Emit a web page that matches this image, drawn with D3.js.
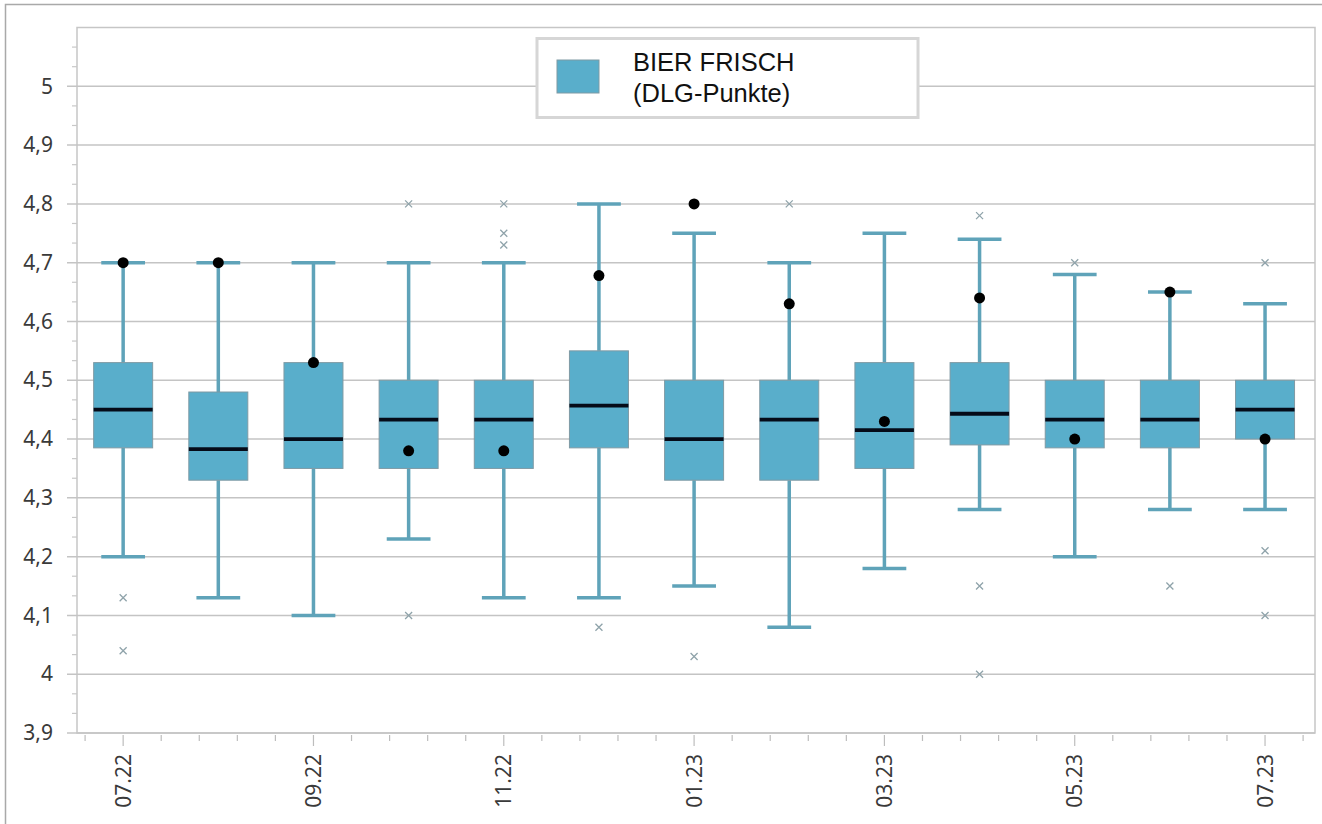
<!DOCTYPE html>
<meta charset="utf-8">
<html>
<script src="https://d3js.org/d3.v7.min.js"></script>
<style>
  body { margin: 0; background: #fff; }
  .axis text { font-family: "Noto Sans", "Open Sans", sans-serif; font-size: 21px; fill: #3a3a3a; }
  .axis path { display: none; }
</style>
<body>
<div id="chart"></div>
<script>
// months (one box per month)
const months = ["07.22","08.22","09.22","10.22","11.22","12.22","01.23","02.23","03.23","04.23","05.23","06.23","07.23"];
// box statistics
const whiskerLow  = [4.20, 4.13, 4.10, 4.23, 4.13, 4.13, 4.15, 4.08, 4.18, 4.28, 4.20, 4.28, 4.28];
const q1          = [4.385, 4.33, 4.35, 4.35, 4.35, 4.385, 4.33, 4.33, 4.35, 4.39, 4.385, 4.385, 4.40];
const median      = [4.45, 4.383, 4.40, 4.433, 4.433, 4.457, 4.40, 4.433, 4.415, 4.443, 4.433, 4.433, 4.45];
const q3          = [4.53, 4.48, 4.53, 4.50, 4.50, 4.55, 4.50, 4.50, 4.53, 4.53, 4.50, 4.50, 4.50];
const whiskerHigh = [4.70, 4.70, 4.70, 4.70, 4.70, 4.80, 4.75, 4.70, 4.75, 4.74, 4.68, 4.65, 4.63];
const mean        = [4.70, 4.70, 4.53, 4.38, 4.38, 4.678, 4.80, 4.63, 4.43, 4.64, 4.40, 4.65, 4.40];
const outliers    = [[4.13, 4.04], [], [], [4.80, 4.10], [4.80, 4.75, 4.73], [4.08], [4.80, 4.03],
                     [4.80], [], [4.78, 4.15, 4.00], [4.70], [4.15], [4.70, 4.21, 4.10]];
const yTicks = [3.9, 4.0, 4.1, 4.2, 4.3, 4.4, 4.5, 4.6, 4.7, 4.8, 4.9, 5.0];
const legendLines = ["BIER FRISCH", "(DLG-Punkte)"];

const W = 1322, H = 824;
const plot = {left: 77, right: 1315, top: 27.5, bottom: 733};

const svg = d3.select("#chart").append("svg")
  .attr("width", W).attr("height", H);

// outer frame
svg.append("rect")
  .attr("x", 5.5).attr("y", 4.5).attr("width", W).attr("height", H)
  .attr("fill", "#fff").attr("stroke", "#a9a9a9").attr("stroke-width", 1.5);

const x = d3.scaleLinear().domain([-0.485, 12.525]).range([plot.left, plot.right]);
const y = d3.scaleLinear().domain([3.9, 5.1]).range([plot.bottom, plot.top]);

const fmt = v => d3.format("~g")(+v.toFixed(1)).replace(".", ",");

// plot border
svg.append("rect")
  .attr("x", plot.left).attr("y", plot.top)
  .attr("width", plot.right - plot.left).attr("height", plot.bottom - plot.top)
  .attr("fill", "none").attr("stroke", "#c6c6c6").attr("stroke-width", 1.5);

// grid lines
svg.append("g").selectAll("line").data(yTicks).join("line")
  .attr("x1", plot.left - 10).attr("x2", plot.right)
  .attr("y1", d => y(d)).attr("y2", d => y(d))
  .attr("stroke", "#c4c4c4").attr("stroke-width", 1.5);

// y minor ticks
const yMinor = d3.range(0, 36).map(i => 3.9 + i / 30).filter(v => Math.abs(v * 10 - Math.round(v * 10)) > 0.01);
svg.append("g").selectAll("line").data(yMinor).join("line")
  .attr("x1", plot.left - 5).attr("x2", plot.left)
  .attr("y1", d => y(d)).attr("y2", d => y(d))
  .attr("stroke", "#c8c8c8").attr("stroke-width", 1.2);

// y axis labels
svg.append("g").attr("class", "axis")
  .attr("transform", `translate(${plot.left},0)`)
  .call(d3.axisLeft(y).tickValues(yTicks).tickFormat(fmt).tickSize(0).tickPadding(24));

// x ticks (every 0.4 month)
const xMinor = d3.range(-1, 32).map(i => i * 0.4);
svg.append("g").selectAll("line").data(xMinor).join("line")
  .attr("x1", d => x(d)).attr("x2", d => x(d))
  .attr("y1", plot.bottom + 2)
  .attr("y2", d => Math.abs(d / 2 - Math.round(d / 2)) < 0.01 ? plot.bottom + 13 : plot.bottom + 8)
  .attr("stroke", "#bdbdbd").attr("stroke-width", 1.2);

// x labels (every second month)
svg.append("g").attr("class", "axis")
  .selectAll("text").data(months.map((m, i) => ({m, i})).filter(d => d.i % 2 === 0)).join("text")
  .attr("transform", d => `translate(${x(d.i) + 7.5},${plot.bottom + 21}) rotate(-90)`)
  .attr("text-anchor", "end")
  .text(d => d.m);

// boxes
const boxColor = "#59aecb", lineColor = "#5fa3b9";
const bw = 0.31, cw = 0.23;
const g = svg.append("g");
const data = months.map((m, i) => ({i, lo: whiskerLow[i], q1: q1[i], md: median[i], q3: q3[i], hi: whiskerHigh[i], mean: mean[i], out: outliers[i]}));

// whisker stems
g.selectAll(".stem-hi").data(data).join("line")
  .attr("x1", d => x(d.i)).attr("x2", d => x(d.i))
  .attr("y1", d => y(d.hi)).attr("y2", d => y(d.q3))
  .attr("stroke", lineColor).attr("stroke-width", 3.5);
g.selectAll(".stem-lo").data(data).join("line")
  .attr("x1", d => x(d.i)).attr("x2", d => x(d.i))
  .attr("y1", d => y(d.q1)).attr("y2", d => y(d.lo))
  .attr("stroke", lineColor).attr("stroke-width", 3.5);
// caps
g.selectAll(".cap-hi").data(data).join("line")
  .attr("x1", d => x(d.i - cw)).attr("x2", d => x(d.i + cw))
  .attr("y1", d => y(d.hi)).attr("y2", d => y(d.hi))
  .attr("stroke", lineColor).attr("stroke-width", 3.5);
g.selectAll(".cap-lo").data(data).join("line")
  .attr("x1", d => x(d.i - cw)).attr("x2", d => x(d.i + cw))
  .attr("y1", d => y(d.lo)).attr("y2", d => y(d.lo))
  .attr("stroke", lineColor).attr("stroke-width", 3.5);

// box
g.selectAll(".box").data(data).join("rect")
  .attr("x", d => x(d.i - bw)).attr("width", d => x(d.i + bw) - x(d.i - bw))
  .attr("y", d => y(d.q3)).attr("height", d => y(d.q1) - y(d.q3))
  .attr("fill", boxColor).attr("stroke", "#7f9aa4").attr("stroke-width", 1);

// median
g.selectAll(".med").data(data).join("line")
  .attr("x1", d => x(d.i - bw)).attr("x2", d => x(d.i + bw))
  .attr("y1", d => y(d.md)).attr("y2", d => y(d.md))
  .attr("stroke", "#050b18").attr("stroke-width", 3.8);

// outliers
const outPts = data.flatMap(d => d.out.map(v => ({i: d.i, v})));
g.selectAll(".out").data(outPts).join("path")
  .attr("transform", d => `translate(${x(d.i)},${y(d.v)})`)
  .attr("d", "M-3.5,-3.5L3.5,3.5M-3.5,3.5L3.5,-3.5")
  .attr("stroke", "#8fa3aa").attr("stroke-width", 1.3).attr("fill", "none");

// mean dots
g.selectAll(".mean").data(data).join("circle")
  .attr("cx", d => x(d.i)).attr("cy", d => y(d.mean)).attr("r", 5.5)
  .attr("fill", "#000");

// legend
const lg = svg.append("g");
lg.append("rect")
  .attr("x", 537).attr("y", 38.5).attr("width", 381).attr("height", 79)
  .attr("fill", "#fff").attr("stroke", "#d6d6d6").attr("stroke-width", 3);
lg.append("rect")
  .attr("x", 557).attr("y", 60).attr("width", 42).attr("height", 33)
  .attr("fill", boxColor).attr("stroke", "#7f9aa4").attr("stroke-width", 1);
lg.selectAll("text").data(legendLines).join("text")
  .attr("x", 633).attr("y", (d, i) => 71 + i * 31)
  .attr("font-family", "'Liberation Sans', Arial, sans-serif")
  .attr("font-size", 25.5).attr("fill", "#111")
  .text(d => d);
</script>
</body>
</html>
